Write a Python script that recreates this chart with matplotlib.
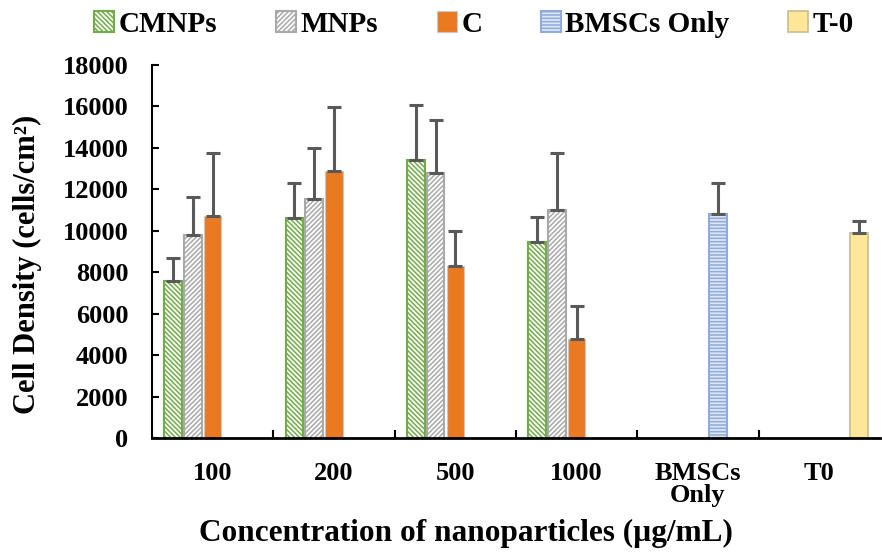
import numpy as np
import matplotlib
matplotlib.use('Agg')
import matplotlib.pyplot as plt
from matplotlib.patches import Patch

plt.rcParams['font.family'] = ['Liberation Serif', 'DejaVu Serif']
plt.rcParams['font.weight'] = 'bold'
plt.rcParams['hatch.linewidth'] = 1.1

categories = ['100', '200', '500', '1000', 'BMSCs\nOnly', 'T0']
series_names = ['CMNPs', 'MNPs', 'C', 'BMSCs Only', 'T-0']

# values (cells/cm2), upper error only
cmnps = [7580, 10600, 13410, 9470]
cmnps_err = [1110, 1690, 2660, 1210]
mnps = [9790, 11530, 12770, 11000]
mnps_err = [1850, 2460, 2570, 2740]
c_vals = [10720, 12870, 8310, 4770]
c_err = [3040, 3090, 1680, 1610]
bmscs = [10790]
bmscs_err = [1500]
t0 = [9900]
t0_err = [565]

fig = plt.figure(figsize=(8.82, 5.52), dpi=100)
ax = fig.add_axes([152/882, 1-438/552, 728/882, 373/552])

step = 0.163
w = 0.145
x = np.arange(len(categories))

styles = [
    dict(facecolor='white', edgecolor='#70AD47', hatch='\\\\\\\\\\\\\\', linewidth=1.5),
    dict(facecolor='white', edgecolor='#A9A9A9', hatch='///////', linewidth=1.5),
    dict(facecolor='#E97A22', edgecolor='#C8C8C8', linewidth=0.8),
    dict(facecolor='#DCE6F5', edgecolor='#8FAADC', hatch='-----', linewidth=1.5),
    dict(facecolor='#FFE699', edgecolor='#C9BC8E', linewidth=1.2),
]

data = [
    (x[:4], cmnps, cmnps_err),
    (x[:4], mnps, mnps_err),
    (x[:4], c_vals, c_err),
    (x[4:5], bmscs, bmscs_err),
    (x[5:6], t0, t0_err),
]

for i, (xs, vals, errs) in enumerate(data):
    pos = xs + (i - 2) * step
    ax.bar(pos, vals, width=w, zorder=2, **styles[i])
    ax.errorbar(pos, vals, yerr=[np.zeros(len(errs)), errs], fmt='none',
                ecolor='#595959', elinewidth=2.2, capsize=5, capthick=2.2, zorder=3)

ax.set_xlim(-0.5, 5.5)
ax.set_ylim(0, 18000)
ax.set_yticks(np.arange(0, 18001, 2000))
ax.tick_params(axis='y', direction='in', length=5, width=1.5, labelsize=19, pad=17)
ax.set_xticks(np.arange(0.5, 5.5, 1.0))
ax.set_xticklabels([])
ax.tick_params(axis='x', which='major', direction='in', length=6, width=1.5)
ax.set_xticks(x, minor=True)
ax.set_xticklabels(categories, minor=True, fontsize=19, linespacing=0.95)
ax.tick_params(axis='x', which='minor', length=0, pad=17)
for lab in ax.get_yticklabels() + ax.get_xticklabels(minor=True):
    lab.set_fontweight('bold')

for s in ['top', 'right']:
    ax.spines[s].set_visible(False)
ax.spines['left'].set_linewidth(1.5)
ax.spines['bottom'].set_linewidth(2)

fig.text(27/882, 1-264/552, 'Cell Density (cells/cm²)', fontsize=22,
         fontweight='bold', ha='center', va='center', rotation=90)
fig.text(466/882, 1-533/552, 'Concentration of nanoparticles (µg/mL)', fontsize=22.5,
         fontweight='bold', ha='center', va='center')

handles = [Patch(label=n, **st) for n, st in zip(series_names, styles)]
fig.legend(handles=handles, loc='center', bbox_to_anchor=(474/882, 1-24/552), ncol=5,
           frameon=False, handlelength=0.7, handleheight=0.7,
           handletextpad=0.15, columnspacing=2.0, prop={'weight': 'bold', 'size': 21})

fig.savefig('out.png', dpi=100)
